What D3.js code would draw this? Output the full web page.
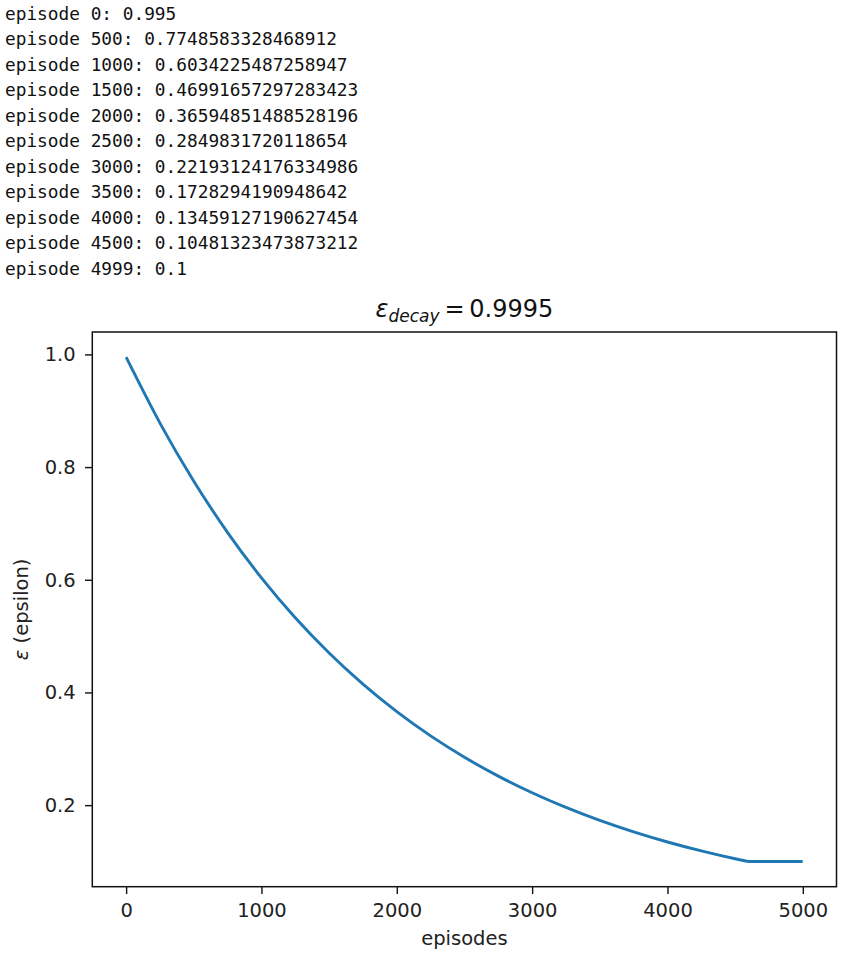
<!DOCTYPE html>
<html>
<head>
<meta charset="utf-8">
<script src="https://cdn.jsdelivr.net/npm/d3@7"></script>
<style>
  html, body { margin: 0; padding: 0; background: #fff; }
  svg { display: block; }
</style>
</head>
<body>
<svg id="chart" width="853" height="955"></svg>
<script>
// Printed log lines (episode, epsilon text)
const logEpisodes = [0, 500, 1000, 1500, 2000, 2500, 3000, 3500, 4000, 4500, 4999];
const logValues = ["0.995", "0.7748583328468912", "0.6034225487258947", "0.46991657297283423",
  "0.36594851488528196", "0.2849831720118654", "0.22193124176334986", "0.1728294190948642",
  "0.13459127190627454", "0.10481323473873212", "0.1"];

// Curve samples (decaying part, then the floor)
const episodes = [0, 250, 500, 750, 1000, 1250, 1500, 1750, 2000, 2250, 2500, 2750, 3000,
  3250, 3500, 3750, 4000, 4250, 4500, 4594];
const epsilon = [0.995, 0.8781, 0.7749, 0.6838, 0.6034, 0.5325, 0.4699, 0.4147, 0.3659,
  0.3229, 0.2850, 0.2515, 0.2219, 0.1959, 0.1728, 0.1525, 0.1346, 0.1188, 0.1048, 0.1];
const floorEpisodes = [4594, 4999];
const floorEpsilon = [0.1, 0.1];

const xTicks = [0, 1000, 2000, 3000, 4000, 5000];
const yTicks = [0.2, 0.4, 0.6, 0.8, 1.0];

const svg = d3.select("#chart");

// Log text
svg.append("g").selectAll("text")
  .data(logEpisodes)
  .join("text")
  .attr("x", 5)
  .attr("y", (d, i) => 19.5 + i * 25.5)
  .attr("font-family", "'DejaVu Sans Mono', monospace")
  .attr("font-size", "17.8px")
  .attr("fill", "#111")
  .attr("xml:space", "preserve")
  .text((d, i) => `episode ${d}: ${logValues[i]}`);

const L = 92.3, R = 836.5, T = 332, B = 886.7;
const xmin = 0, xmax = 4999, ymin = 0.1, ymax = 0.995;
const xm = (xmax - xmin) * 0.05, ym = (ymax - ymin) * 0.05;
const x = d3.scaleLinear().domain([xmin - xm, xmax + xm]).range([L, R]);
const y = d3.scaleLinear().domain([ymin - ym, ymax + ym]).range([B, T]);

const fontTick = "'DejaVu Sans', sans-serif";

// Line: smooth decaying part + flat floor
const curveLine = d3.line().x((d, i) => x(episodes[i])).y(d => y(d)).curve(d3.curveMonotoneX);
const flatLine = d3.line().x((d, i) => x(floorEpisodes[i])).y(d => y(d));
[[epsilon, curveLine], [floorEpsilon, flatLine]].forEach(([data, gen]) => {
  svg.append("path")
    .datum(data)
    .attr("d", gen)
    .attr("fill", "none")
    .attr("stroke", "#1f77b4")
    .attr("stroke-width", 2.9)
    .attr("stroke-linejoin", "round")
    .attr("stroke-linecap", "butt");
});

// Axes
const xAxis = svg.append("g")
  .attr("transform", `translate(0,${B})`)
  .call(d3.axisBottom(x).tickValues(xTicks).tickFormat(d3.format("d")).tickSize(7.3).tickPadding(9.3).tickSizeOuter(0));
const yAxis = svg.append("g")
  .attr("transform", `translate(${L},0)`)
  .call(d3.axisLeft(y).tickValues(yTicks).tickFormat(d3.format(".1f")).tickSize(7.3).tickPadding(9.3).tickSizeOuter(0));

[xAxis, yAxis].forEach(g => {
  g.select(".domain").remove();
  g.selectAll(".tick line").attr("stroke", "#111").attr("stroke-width", 1.4);
  g.selectAll(".tick text")
    .attr("font-family", fontTick)
    .attr("font-size", "19.5px")
    .attr("fill", "#222");
});

// Frame
svg.append("rect")
  .attr("x", L).attr("y", T)
  .attr("width", R - L).attr("height", B - T)
  .attr("fill", "none")
  .attr("stroke", "#111")
  .attr("stroke-width", 1.5);

// Title
const title = svg.append("text")
  .attr("x", (L + R) / 2)
  .attr("y", 316.7)
  .attr("text-anchor", "middle")
  .attr("font-family", fontTick)
  .attr("font-size", "24px")
  .attr("fill", "#111");
title.append("tspan").attr("font-style", "italic").text("ε");
title.append("tspan").attr("font-style", "italic").attr("font-size", "17px").attr("dy", "5").text("decay");
title.append("tspan").attr("dy", "-5").text("\u2009=\u20090.9995");

// X label
svg.append("text")
  .attr("x", (L + R) / 2)
  .attr("y", 945)
  .attr("text-anchor", "middle")
  .attr("font-family", fontTick)
  .attr("font-size", "19.5px")
  .attr("fill", "#222")
  .text("episodes");

// Y label
const yl = svg.append("text")
  .attr("transform", `translate(28,${(T + B) / 2}) rotate(-90)`)
  .attr("text-anchor", "middle")
  .attr("font-family", fontTick)
  .attr("font-size", "19.5px")
  .attr("fill", "#222");
yl.append("tspan").attr("font-style", "italic").text("ε");
yl.append("tspan").text(" (epsilon)");
</script>
</body>
</html>
